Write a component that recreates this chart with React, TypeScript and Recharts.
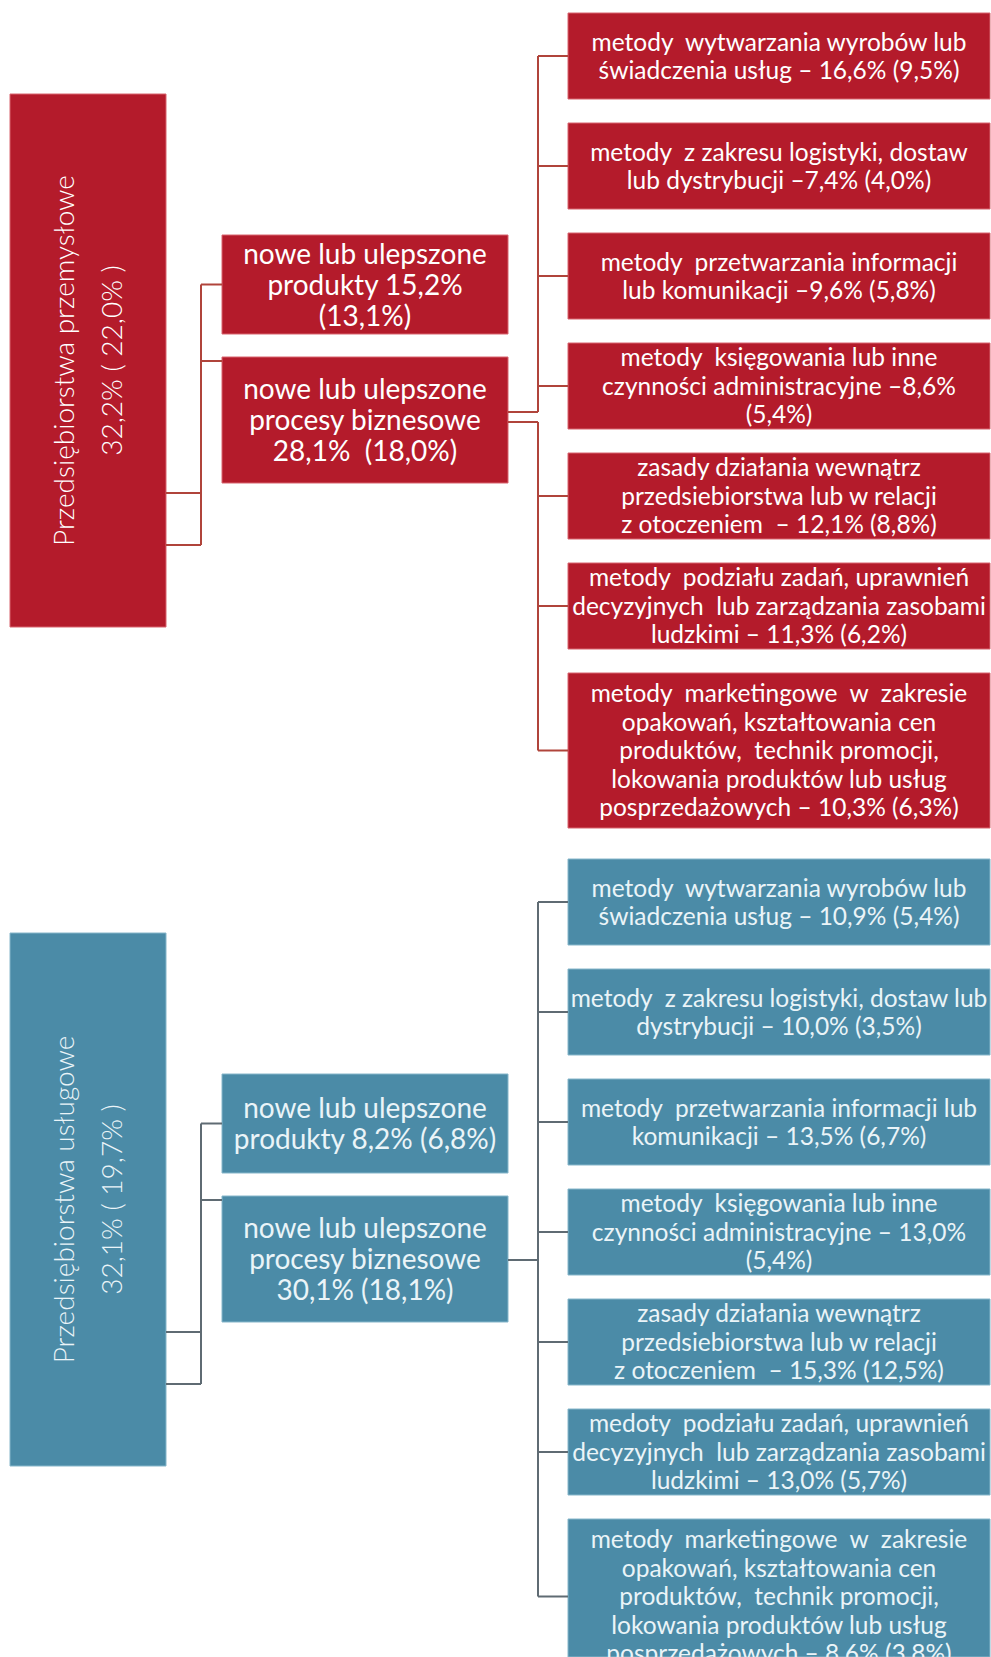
import React from "react";
import {
  ScatterChart,
  Scatter,
  XAxis,
  YAxis,
  ReferenceArea,
  ReferenceLine,
} from "recharts";

// ---------------------------------------------------------------------------
// Data — text of every box, one array per level of the tree
// ---------------------------------------------------------------------------

const sectorNames = ["Przedsiębiorstwa przemysłowe", "Przedsiębiorstwa usługowe"];
const sectorShares = ["32,2% ( 22,0% )", "32,1% ( 19,7% )"];

const productLines = [
  ["nowe lub ulepszone", "produkty 15,2%", "(13,1%)"],
  ["nowe lub ulepszone", "produkty 8,2% (6,8%)"],
];

const processLines = [
  ["nowe lub ulepszone", "procesy biznesowe", "28,1%  (18,0%)"],
  ["nowe lub ulepszone", "procesy biznesowe", "30,1% (18,1%)"],
];

const industryMethods = [
  ["metody  wytwarzania wyrobów lub", "świadczenia usług – 16,6% (9,5%)"],
  ["metody  z zakresu logistyki, dostaw", "lub dystrybucji –7,4% (4,0%)"],
  ["metody  przetwarzania informacji", "lub komunikacji –9,6% (5,8%)"],
  ["metody  księgowania lub inne", "czynności administracyjne –8,6%", "(5,4%)"],
  ["zasady działania wewnątrz", "przedsiebiorstwa lub w relacji", "z otoczeniem  – 12,1% (8,8%)"],
  ["metody  podziału zadań, uprawnień", "decyzyjnych  lub zarządzania zasobami", "ludzkimi – 11,3% (6,2%)"],
  [
    "metody  marketingowe  w  zakresie",
    "opakowań, kształtowania cen",
    "produktów,  technik promocji,",
    "lokowania produktów lub usług",
    "posprzedażowych – 10,3% (6,3%)",
  ],
];

const serviceMethods = [
  ["metody  wytwarzania wyrobów lub", "świadczenia usług – 10,9% (5,4%)"],
  ["metody  z zakresu logistyki, dostaw lub", "dystrybucji – 10,0% (3,5%)"],
  ["metody  przetwarzania informacji lub", "komunikacji – 13,5% (6,7%)"],
  ["metody  księgowania lub inne", "czynności administracyjne – 13,0%", "(5,4%)"],
  ["zasady działania wewnątrz", "przedsiebiorstwa lub w relacji", "z otoczeniem  – 15,3% (12,5%)"],
  ["medoty  podziału zadań, uprawnień", "decyzyjnych  lub zarządzania zasobami", "ludzkimi – 13,0% (5,7%)"],
  [
    "metody  marketingowe  w  zakresie",
    "opakowań, kształtowania cen",
    "produktów,  technik promocji,",
    "lokowania produktów lub usług",
    "posprzedażowych – 8,6% (3,8%)",
  ],
];

const methodsBySector = [industryMethods, serviceMethods];

// ---------------------------------------------------------------------------
// Layout & styles (diagram units = pixels, mapped through the axes)
// ---------------------------------------------------------------------------

const W = 991;
const H = 1657;
const FONT = "Lato, 'Open Sans', sans-serif";

const SECTION_TOP = [0, 839];
const METHOD_TOP = [13, 20];
const METHOD_PITCH = 110;
const METHOD_H_SHORT = 86;
const METHOD_H_TALL = 155;

const COL_SECTOR = [10, 166];
const COL_MID = [222, 508];
const COL_METHOD = [568, 990];
const SPINE_LEFT = 201;
const SPINE_RIGHT = 538;

const SECTOR_BOX = [94, 627];
const MID_BOXES = [
  [235, 334],
  [357, 483],
];
const SECTOR_OUT = [493, 545];
const PROCESS_OUT = [[412, 422], [421]];

const FILL = ["#b41b2b", "#4b8ba7"];
const EDGE = ["#d8646e", "#86b6ca"];
const TEXT = ["#ffffff", "#eaf4f8"];
const LINK = ["#b0443b", "#5f6b73"];

// ---------------------------------------------------------------------------
// Build boxes, links and label points
// ---------------------------------------------------------------------------

interface Box {
  x1: number;
  x2: number;
  y1: number;
  y2: number;
  s: number;
}
interface Seg {
  a: [number, number];
  b: [number, number];
  s: number;
}
interface LabelPoint {
  x: number;
  y: number;
  lines: string[];
  fontSize: number;
  lineHeight: number;
  color: string;
  vertical?: boolean;
  weight?: number;
}

const boxes: Box[] = [];
const segs: Seg[] = [];
const labels: LabelPoint[] = [];

sectorNames.forEach((name, s) => {
  const top = SECTION_TOP[s];

  // level 1: sector
  const sy1 = top + SECTOR_BOX[0];
  const sy2 = Math.min(H, top + SECTOR_BOX[1]);
  boxes.push({ x1: COL_SECTOR[0], x2: COL_SECTOR[1], y1: sy1, y2: sy2, s });
  labels.push({
    x: (COL_SECTOR[0] + COL_SECTOR[1]) / 2,
    y: (sy1 + sy2) / 2,
    lines: [name, sectorShares[s]],
    fontSize: 28,
    lineHeight: 48,
    color: TEXT[s],
    vertical: true,
    weight: 300,
  });

  // level 2: products / processes
  const midText = [productLines[s], processLines[s]];
  const midY: number[][] = [];
  MID_BOXES.forEach(([a, b], i) => {
    const y1 = top + a;
    const y2 = top + b;
    midY.push([y1, y2]);
    boxes.push({ x1: COL_MID[0], x2: COL_MID[1], y1, y2, s });
    labels.push({
      x: (COL_MID[0] + COL_MID[1]) / 2,
      y: (y1 + y2) / 2,
      lines: midText[i],
      fontSize: 28,
      lineHeight: 31,
      color: TEXT[s],
    });
  });

  // links sector -> level 2
  const leftStubs = [(midY[0][0] + midY[0][1]) / 2, midY[1][0] + 4];
  const outs = SECTOR_OUT.map((v) => top + v);
  outs.forEach((y) => segs.push({ a: [COL_SECTOR[1], y], b: [SPINE_LEFT, y], s }));
  segs.push({ a: [SPINE_LEFT, leftStubs[0]], b: [SPINE_LEFT, Math.max(...outs)], s });
  leftStubs.forEach((y) => segs.push({ a: [SPINE_LEFT, y], b: [COL_MID[0], y], s }));

  // level 3: methods
  const methods = methodsBySector[s];
  const centers: number[] = [];
  methods.forEach((lines, i) => {
    const y1 = top + METHOD_TOP[s] + i * METHOD_PITCH;
    const h = lines.length > 3 ? METHOD_H_TALL : METHOD_H_SHORT;
    const y2 = Math.min(H, y1 + h);
    const cy = y1 + h / 2;
    centers.push(cy);
    boxes.push({ x1: COL_METHOD[0], x2: COL_METHOD[1], y1, y2, s });
    labels.push({
      x: (COL_METHOD[0] + COL_METHOD[1]) / 2,
      y: cy,
      lines,
      fontSize: 24.5,
      lineHeight: 28.5,
      color: TEXT[s],
    });
    segs.push({ a: [SPINE_RIGHT, cy], b: [COL_METHOD[0], cy], s });
  });

  // links processes -> methods
  const joins = PROCESS_OUT[s].map((v) => top + v);
  joins.forEach((y) => segs.push({ a: [COL_MID[1], y], b: [SPINE_RIGHT, y], s }));
  const first = centers[0];
  const last = centers[centers.length - 1];
  if (joins.length > 1) {
    segs.push({ a: [SPINE_RIGHT, first], b: [SPINE_RIGHT, joins[0]], s });
    segs.push({ a: [SPINE_RIGHT, joins[joins.length - 1]], b: [SPINE_RIGHT, last], s });
  } else {
    segs.push({ a: [SPINE_RIGHT, first], b: [SPINE_RIGHT, last], s });
  }
});

// ---------------------------------------------------------------------------
// Label renderer (used as the Scatter point shape)
// ---------------------------------------------------------------------------

function BoxText(props: { cx?: number; cy?: number; payload?: LabelPoint }) {
  const { cx = 0, cy = 0, payload } = props;
  if (!payload) return null;
  const { lines, fontSize, lineHeight, color, vertical, weight } = payload;
  const y0 = cy - ((lines.length - 1) / 2) * lineHeight + fontSize * 0.36;
  return (
    <text
      transform={vertical ? `rotate(-90, ${cx}, ${cy})` : undefined}
      textAnchor="middle"
      fontFamily={FONT}
      fontSize={fontSize}
      fontWeight={weight ?? 400}
      fill={color}
      style={{ whiteSpace: "pre" }}
    >
      {lines.map((line, i) => (
        <tspan key={i} x={cx} y={y0 + i * lineHeight}>
          {line}
        </tspan>
      ))}
    </text>
  );
}

// ---------------------------------------------------------------------------
// App
// ---------------------------------------------------------------------------

export default function App() {
  return (
    <div style={{ position: "absolute", left: 0, top: 0, width: W, height: H, background: "#fff" }}>
      <ScatterChart width={W} height={H} margin={{ top: 0, right: 0, bottom: 0, left: 0 }}>
        <XAxis type="number" dataKey="x" domain={[0, W]} hide />
        <YAxis type="number" dataKey="y" domain={[0, H]} reversed hide />

        {boxes.map((b, i) => (
          <ReferenceArea
            key={`box-${i}`}
            x1={b.x1}
            x2={b.x2}
            y1={b.y1}
            y2={b.y2}
            fill={FILL[b.s]}
            fillOpacity={1}
            stroke={EDGE[b.s]}
            strokeWidth={1}
            ifOverflow="visible"
          />
        ))}

        {segs.map((g, i) => (
          <ReferenceLine
            key={`seg-${i}`}
            segment={[
              { x: g.a[0], y: g.a[1] },
              { x: g.b[0], y: g.b[1] },
            ]}
            stroke={LINK[g.s]}
            strokeWidth={2}
            ifOverflow="visible"
          />
        ))}

        <Scatter
          data={labels}
          isAnimationActive={false}
          shape={(p: any) => <BoxText cx={p.cx} cy={p.cy} payload={p.payload} />}
        />
      </ScatterChart>
    </div>
  );
}
